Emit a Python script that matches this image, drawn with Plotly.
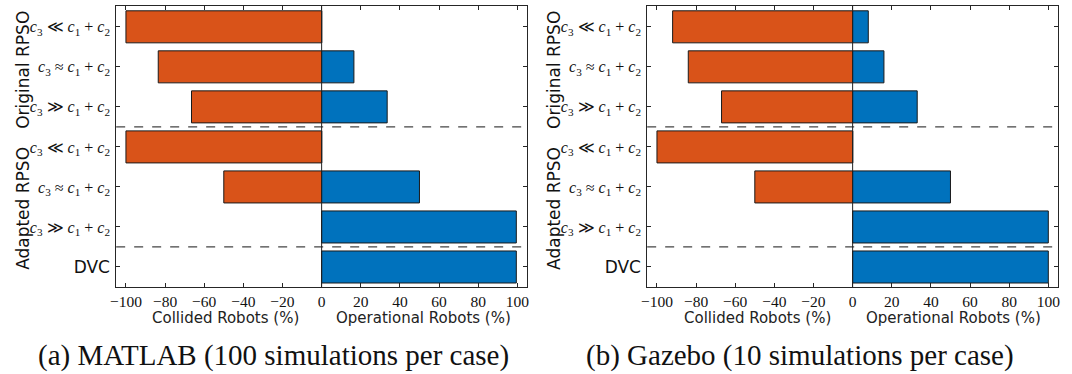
import plotly.graph_objects as go
from plotly.subplots import make_subplots

# ---- data ----
row_labels = [
    "<i>c</i><sub>3</sub> ≪ <i>c</i><sub>1</sub> + <i>c</i><sub>2</sub>",
    "<i>c</i><sub>3</sub> ≈ <i>c</i><sub>1</sub> + <i>c</i><sub>2</sub>",
    "<i>c</i><sub>3</sub> ≫ <i>c</i><sub>1</sub> + <i>c</i><sub>2</sub>",
    "<i>c</i><sub>3</sub> ≪ <i>c</i><sub>1</sub> + <i>c</i><sub>2</sub>",
    "<i>c</i><sub>3</sub> ≈ <i>c</i><sub>1</sub> + <i>c</i><sub>2</sub>",
    "<i>c</i><sub>3</sub> ≫ <i>c</i><sub>1</sub> + <i>c</i><sub>2</sub>",
    "DVC",
]
matlab_collided = [100, 83.5, 66.5, 100, 50, 0, 0]
matlab_operational = [0, 16.5, 33.5, 0, 50, 99.5, 99.5]
gazebo_collided = [92, 84, 67, 100, 50, 0, 0]
gazebo_operational = [8, 16, 33, 0, 50, 100, 100]
x_ticks = [-100, -80, -60, -40, -20, 0, 20, 40, 60, 80, 100]
x_tick_text = ["−100", "−80", "−60", "−40", "−20", "0", "20", "40", "60", "80", "100"]
captions = ["(a) MATLAB (100 simulations per case)", "(b) Gazebo (10 simulations per case)"]
group_labels = ["Original RPSO", "Adapted RPSO"]
separators = [2.5, 5.5]

ORANGE = "#D95319"
BLUE = "#0072BD"
AXC = "#262626"
SERIF = "Liberation Serif"
SANS = "DejaVu Sans"

W, H = 1072, 374
rows_idx = list(range(len(row_labels)))

tick_text_y = []
for t in row_labels:
    if t == "DVC":
        tick_text_y.append('<span style="font-family:\'DejaVu Sans\';font-size:17px">DVC</span>')
    else:
        tick_text_y.append(t)

fig = make_subplots(rows=1, cols=2, horizontal_spacing=0.05)

panels = [(matlab_collided, matlab_operational), (gazebo_collided, gazebo_operational)]
for i, (col, op) in enumerate(panels):
    c = i + 1
    fig.add_trace(go.Bar(y=rows_idx, x=[-v for v in col], orientation="h", width=0.8,
                         marker=dict(color=ORANGE, line=dict(color="#1a1a1a", width=1)),
                         showlegend=False, hoverinfo="x+y"), row=1, col=c)
    fig.add_trace(go.Bar(y=rows_idx, x=op, orientation="h", width=0.8,
                         marker=dict(color=BLUE, line=dict(color="#1a1a1a", width=1)),
                         showlegend=False, hoverinfo="x+y"), row=1, col=c)

x_domains = [[111 / W, 525 / W], [646 / W, 1060 / W]]
y_domain = [1 - 287 / H, 1 - 6 / H]

for i in range(2):
    c = i + 1
    fig.update_xaxes(domain=x_domains[i], range=[-105, 105], tickvals=x_ticks, ticktext=x_tick_text,
                     ticks="inside", ticklen=4, tickcolor=AXC, showline=True, linecolor=AXC,
                     linewidth=1, mirror="ticks", showgrid=False, zeroline=False,
                     tickfont=dict(family=SERIF, size=15.5, color="#111"), row=1, col=c)
    fig.update_yaxes(domain=y_domain, range=[6.5, -0.52], tickvals=rows_idx, ticktext=tick_text_y,
                     ticks="inside", ticklen=4, tickcolor=AXC, showline=True, linecolor=AXC,
                     linewidth=1, mirror="ticks", showgrid=False, zeroline=False,
                     ticklabelstandoff=2,
                     tickfont=dict(family=SERIF, size=16, color="#111"), row=1, col=c)

# separators and zero lines
for i in range(2):
    xr = "x" if i == 0 else "x2"
    yr = "y" if i == 0 else "y2"
    for s in separators:
        fig.add_shape(type="line", xref=xr + " domain", yref=yr, x0=0, x1=1, y0=s, y1=s,
                      line=dict(color="#444", width=1.2, dash="dash"), layer="above")
    fig.add_shape(type="line", xref=xr, yref=yr + " domain", x0=0, x1=0, y0=0, y1=1,
                  line=dict(color="#222", width=1), layer="above")

ann = []
centers_a = [(17, 70), (17, 208)]
offs = [0, 535]
for i in range(2):
    dx = offs[i]
    for (gx, gy), g in zip(centers_a, group_labels):
        ann.append(dict(x=(gx + dx) / W, y=1 - gy / H, xref="paper", yref="paper", text=g,
                        textangle=-90, showarrow=False, xanchor="center", yanchor="middle",
                        font=dict(family=SANS, size=17, color="#111")))
# axis titles
titles = [("Collided Robots (%)", 221, 318), ("Operational Robots (%)", 421, 318),
          ("Collided Robots (%)", 757, 318), ("Operational Robots (%)", 955, 318)]
for t, tx, ty in titles:
    ann.append(dict(x=tx / W, y=1 - ty / H, xref="paper", yref="paper", text=t, showarrow=False,
                    xanchor="center", yanchor="middle", font=dict(family=SANS, size=15, color="#222")))
for cap, cx in zip(captions, [270, 800]):
    ann.append(dict(x=cx / W, y=1 - 355 / H, xref="paper", yref="paper", text=cap, showarrow=False,
                    xanchor="center", yanchor="middle", font=dict(family=SERIF, size=29, color="#111")))

fig.update_layout(width=W, height=H, margin=dict(l=0, r=0, t=0, b=0),
                  font=dict(family=SERIF, size=16, color="#111"),
                  paper_bgcolor="white", plot_bgcolor="white", barmode="relative",
                  annotations=ann, bargap=0.2)

fig.write_html("out.html")
